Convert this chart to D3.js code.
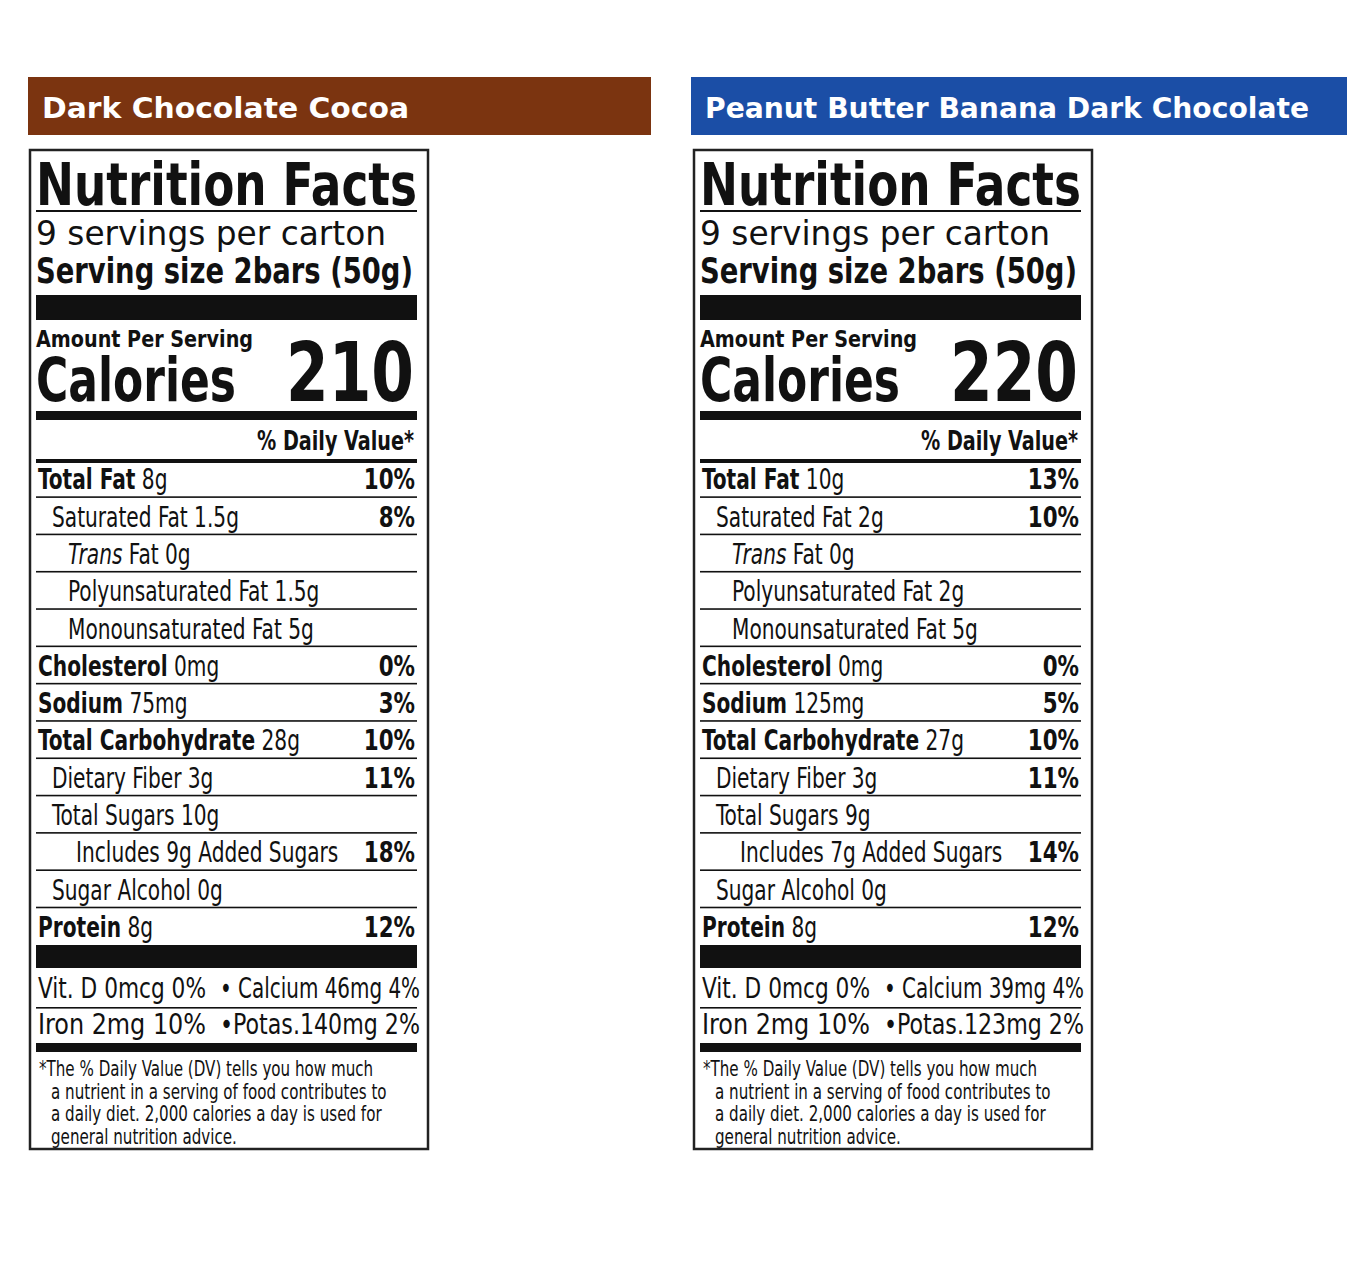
<!DOCTYPE html>
<html><head><meta charset="utf-8">
<script src="https://cdn.jsdelivr.net/npm/d3@7/dist/d3.min.js"></script>
<style>body{margin:0;background:#fff}svg{display:block}text{font-family:"Liberation Sans Narrow","DejaVu Sans Condensed","Roboto",sans-serif;fill:#111}</style>
</head><body><svg id="c" width="1364" height="1270"></svg>
<script>
const products = ["Dark Chocolate Cocoa", "Peanut Butter Banana Dark Chocolate"];
const headerColors = ["#7b3410", "#1b4ea6"];
const calories = [210, 220];
const rowNames = ["Total Fat","Saturated Fat","Trans Fat","Polyunsaturated Fat","Monounsaturated Fat","Cholesterol","Sodium","Total Carbohydrate","Dietary Fiber","Total Sugars","Includes","Sugar Alcohol","Protein"];
const rowBold = [1,0,0,0,0,1,1,1,0,0,0,0,1];
const rowIndent = [0,1,2,2,2,0,0,0,1,1,3,1,0];
const amountsA = ["8g","1.5g","0g","1.5g","5g","0mg","75mg","28g","3g","10g","9g","0g","8g"];
const amountsB = ["10g","2g","0g","2g","5g","0mg","125mg","27g","3g","9g","7g","0g","8g"];
const dvA = ["10%","8%","","","","0%","3%","10%","11%","","18%","","12%"];
const dvB = ["13%","10%","","","","0%","5%","10%","11%","","14%","","12%"];
const vitA = [["Vit. D 0mcg 0%","• Calcium 46mg 4%"],["Iron 2mg 10%","•Potas.140mg 2%"]];
const vitB = [["Vit. D 0mcg 0%","• Calcium 39mg 4%"],["Iron 2mg 10%","•Potas.123mg 2%"]];
const footnote = ["*The % Daily Value (DV) tells you how much","a nutrient in a serving of food contributes to","a daily diet. 2,000 calories a day is used for","general nutrition advice."];

const svg = d3.select("#c");
const panels = [
 {hx:28, hw:623, bx:30, hl:367, amounts:amountsA, dv:dvA, vit:vitA},
 {hx:691, hw:656, bx:694, hl:604, amounts:amountsB, dv:dvB, vit:vitB}
];
const indentPx = [0,14,30,38];
const y = d3.scaleBand().domain(d3.range(rowNames.length)).range([460,945]).padding(0);
const squeeze = (sel,f)=>{const n=sel.node(); const w=n.getComputedTextLength(); sel.attr("textLength",w*f).attr("lengthAdjust","spacingAndGlyphs"); return sel;};

panels.forEach((p,i)=>{
  const g = svg.append("g");
  g.append("rect").attr("x",p.hx).attr("y",77).attr("width",p.hw).attr("height",58).attr("fill",headerColors[i]);
  g.append("text").attr("x",p.hx+14).attr("y",118).text(products[i])
   .style("font-family","'DejaVu Sans',sans-serif").style("font-weight","bold").style("font-size","29px").style("fill","#fff")
   .attr("textLength",p.hl).attr("lengthAdjust","spacingAndGlyphs");
  const L = p.bx+6, R = p.bx+387;
  g.append("rect").attr("x",p.bx).attr("y",150).attr("width",398).attr("height",999).attr("fill","none").attr("stroke","#222").attr("stroke-width",2.5);
  const t = (x,yy,s,size,w,anchor)=>g.append("text").attr("x",x).attr("y",yy).text(s).style("font-size",size+"px").style("font-weight",w||"normal").attr("text-anchor",anchor||"start");
  const line=(yy,h,x1)=>g.append("rect").attr("x",x1||L).attr("y",yy).attr("width",R-(x1||L)).attr("height",h).attr("fill","#111");
  t(L,205,"Nutrition Facts",58,"bold").attr("textLength",R-L).attr("lengthAdjust","spacingAndGlyphs").style("font-family","'DejaVu Sans',sans-serif");
  line(210,2);
  t(L,245,"9 servings per carton",33).style("font-family","'DejaVu Sans',sans-serif").attr("textLength",350).attr("lengthAdjust","spacingAndGlyphs");
  t(L,283,"Serving size 2bars (50g)",36,"bold").attr("textLength",R-L-4).attr("lengthAdjust","spacingAndGlyphs");
  line(295,25);
  t(L,347,"Amount Per Serving",23,"bold").attr("textLength",217).attr("lengthAdjust","spacingAndGlyphs");
  t(L,401,"Calories",60,"bold").attr("textLength",200).attr("lengthAdjust","spacingAndGlyphs");
  t(R-3,401,String(calories[i]),82,"bold","end").attr("textLength",128).attr("lengthAdjust","spacingAndGlyphs");
  line(411,9);
  squeeze(t(R-3,450,"% Daily Value*",26,"bold","end"),0.82);
  line(459,4);
  rowNames.forEach((n,k)=>{
    const yb = y(k)+y.bandwidth()-8;
    const x = L+2+indentPx[rowIndent[k]];
    const tx = g.append("text").attr("x",x).attr("y",yb).style("font-size","28px");
    if(n==="Trans Fat"){
      tx.append("tspan").text("Trans").style("font-style","italic");
      tx.append("tspan").text(" Fat "+p.amounts[k]);
    } else if(n==="Includes"){
      tx.text("Includes "+p.amounts[k]+" Added Sugars");
    } else {
      tx.append("tspan").text(n).style("font-weight",rowBold[k]?"bold":"normal");
      tx.append("tspan").text(" "+p.amounts[k]);
    }
    squeeze(tx,0.8);
    if(p.dv[k]) squeeze(t(R-2,yb,p.dv[k],28,"bold","end"),0.85);
    if(k<rowNames.length-1) line(y(k)+y.bandwidth()-1,1.6);
  });
  line(945,23);
  p.vit.forEach((v,k)=>{
    const yb=998+k*36;
    t(L+2,yb,v[0],28).attr("textLength",168).attr("lengthAdjust","spacingAndGlyphs");
    t(R+3,yb,v[1],28,"normal","end").attr("textLength",200).attr("lengthAdjust","spacingAndGlyphs");
  });
  line(1007,1.6);
  line(1043,9);
  footnote.forEach((f,k)=>squeeze(t(L+(k?15:3),1076+k*22.5,f,21),0.8));
});
</script></body></html>
